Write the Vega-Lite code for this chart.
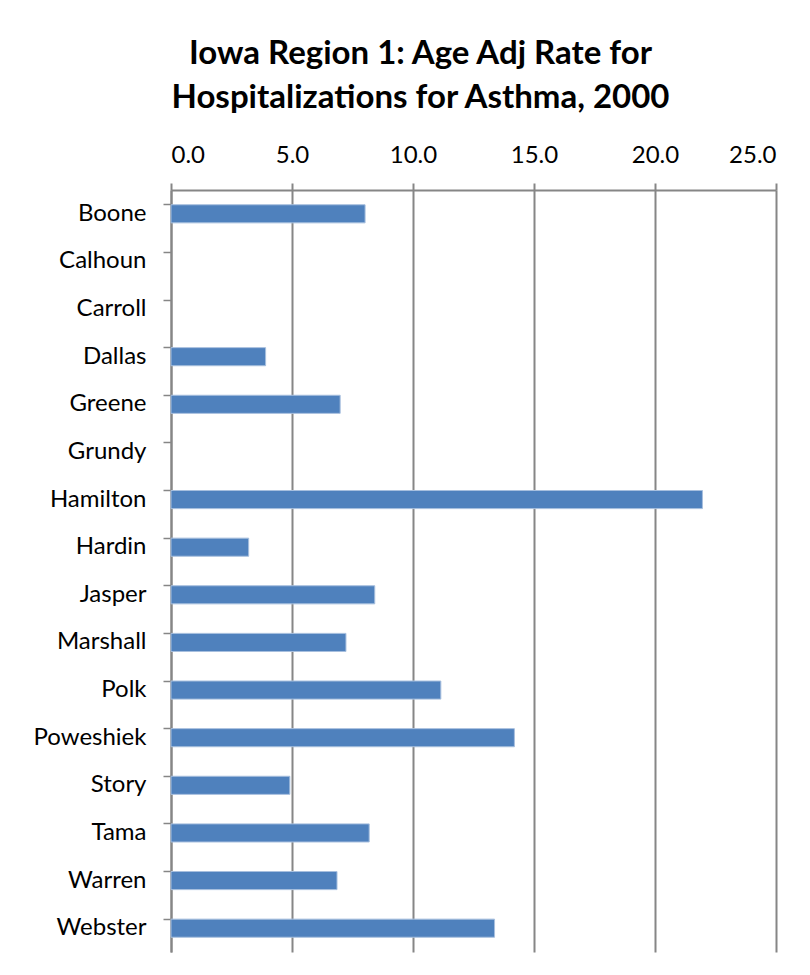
{
  "$schema": "https://vega.github.io/schema/vega-lite/v6.json",
  "width": 605,
  "height": 762,
  "autosize": {"type": "none"},
  "padding": {"left": 171, "top": 190, "right": 34, "bottom": 23},
  "background": "white",
  "title": {
    "text": ["Iowa Region 1: Age Adj Rate for", "Hospitalizations for Asthma, 2000"],
    "font": "Lato",
    "fontSize": 33,
    "fontWeight": "bold",
    "color": "#000000",
    "anchor": "middle",
    "frame": "group",
    "dx": -53,
    "lineHeight": 44,
    "offset": 28
  },
  "data": {
    "values": [
      {"county": "Boone", "rate": 8.02},
      {"county": "Calhoun", "rate": null},
      {"county": "Carroll", "rate": null},
      {"county": "Dallas", "rate": 3.91},
      {"county": "Greene", "rate": 6.99},
      {"county": "Grundy", "rate": null},
      {"county": "Hamilton", "rate": 21.96},
      {"county": "Hardin", "rate": 3.21},
      {"county": "Jasper", "rate": 8.42},
      {"county": "Marshall", "rate": 7.23},
      {"county": "Polk", "rate": 11.15},
      {"county": "Poweshiek", "rate": 14.19},
      {"county": "Story", "rate": 4.91},
      {"county": "Tama", "rate": 8.19},
      {"county": "Warren", "rate": 6.86},
      {"county": "Webster", "rate": 13.37}
    ]
  },
  "mark": {"type": "bar", "color": "#4F81BD", "stroke": "#A7BFDE", "strokeWidth": 1},
  "encoding": {
    "y": {
      "field": "county",
      "type": "nominal",
      "title": null,
      "scale": {
        "domain": ["Boone", "Calhoun", "Carroll", "Dallas", "Greene", "Grundy", "Hamilton", "Hardin", "Jasper", "Marshall", "Polk", "Poweshiek", "Story", "Tama", "Warren", "Webster"],
        "paddingInner": 0.62,
        "paddingOuter": 0.31
      },
      "axis": {
        "orient": "left",
        "bandPosition": 0,
        "tickSize": 8,
        "tickColor": "#868686",
        "tickWidth": 1.5,
        "domainColor": "#868686",
        "domainWidth": 2,
        "labelFont": "Lato",
        "labelFontSize": 24,
        "labelColor": "#000000",
        "labelPadding": 17,
        "grid": false
      }
    },
    "x": {
      "field": "rate",
      "type": "quantitative",
      "title": null,
      "scale": {"domain": [0, 25], "nice": false},
      "axis": {
        "orient": "top",
        "values": [0, 5, 10, 15, 20, 25],
        "format": ".1f",
        "tickSize": 7,
        "tickColor": "#868686",
        "tickWidth": 2,
        "domainColor": "#868686",
        "domainWidth": 2,
        "grid": true,
        "gridColor": "#868686",
        "gridWidth": 2,
        "gridOpacity": 1,
        "labelFont": "Lato",
        "labelFontSize": 24,
        "labelColor": "#000000",
        "labelBaseline": "alphabetic",
        "labelPadding": 21
      }
    }
  },
  "config": {"view": {"stroke": null}}
}
